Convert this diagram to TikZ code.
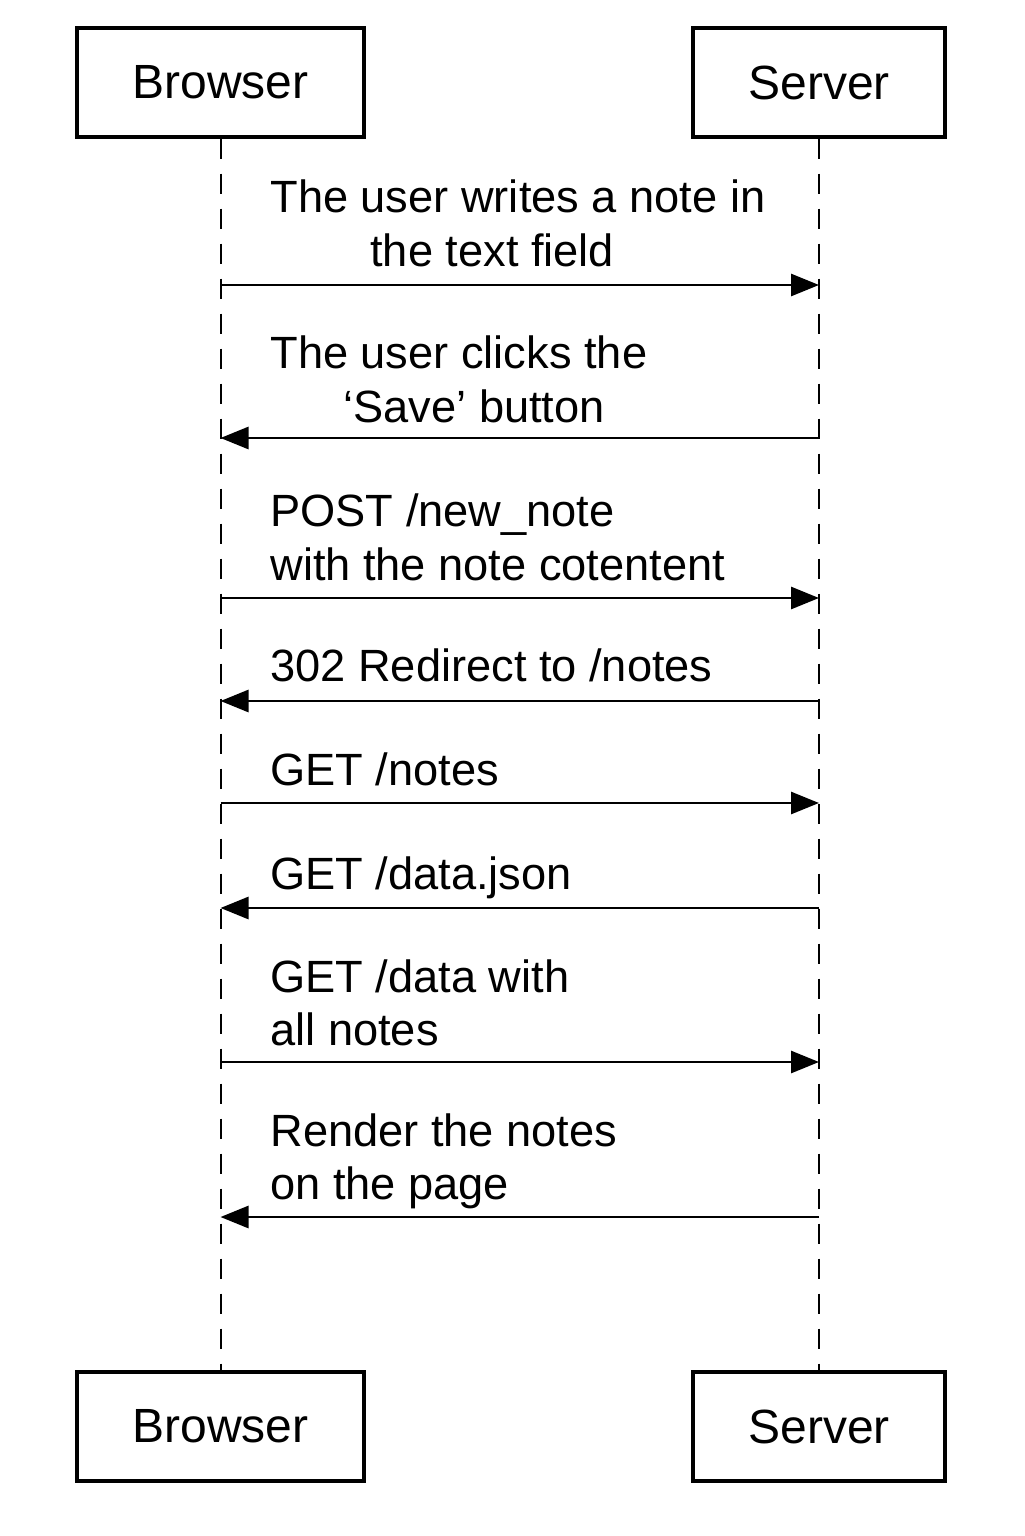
\documentclass[tikz,border=0pt]{standalone}
\usepackage{fontspec}
\setmainfont{Liberation Sans}
\usetikzlibrary{arrows.meta}
\begin{document}
\begin{tikzpicture}[x=0.5pt,y=-0.5pt,
  actor/.style={draw,line width=1.6pt,minimum width=143.5pt,minimum height=54.5pt,inner sep=0pt,font=\fontsize{24}{28}\selectfont},
  life/.style={line width=1pt,dash pattern=on 10pt off 7.5pt},
  msg/.style={line width=1.4pt,-{Triangle[length=14pt,width=11pt]}},
  lbl/.style={anchor=base west,inner sep=0pt,font=\fontsize{22.6}{26}\selectfont}]
\useasboundingbox (0,0) rectangle (1024,1536);
\node[actor] (bt) at (220.5,82.5) {Browser};
\node[actor,minimum width=126pt] (st) at (819,82.5) {Server};
\node[actor] (bb) at (220.5,1426.5) {Browser};
\node[actor,minimum width=126pt] (sb) at (819,1426.5) {Server};
\draw[life] (bt.south) -- (bb.north);
\draw[life] (st.south) -- (sb.north);
% coordinates on lifelines
\foreach \i/\y in {1/285,2/438,3/598,4/701,5/803,6/908,7/1062,8/1217}{
  \coordinate (b\i) at (220.5,\y);
  \coordinate (s\i) at (819,\y);
}
\draw[msg] (b1) -- (s1);
\draw[msg] (s2) -- (b2);
\draw[msg] (b3) -- (s3);
\draw[msg] (s4) -- (b4);
\draw[msg] (b5) -- (s5);
\draw[msg] (s6) -- (b6);
\draw[msg] (b7) -- (s7);
\draw[msg] (s8) -- (b8);
\node[lbl] (l1a) at (270,213) {The user writes a note in};
\node[lbl] (l1b) at (370,266) {the text field};
\node[lbl] (l2a) at (270,368) {The user clicks the};
\node[lbl] (l2b) at (343,422) {‘Save’ button};
\node[lbl] (l3a) at (270,526) {POST /new\_note};
\node[lbl] (l3b) at (270,580) {with the note cotentent};
\node[lbl] (l4) at (270,681) {302 Redirect to /notes};
\node[lbl] (l5) at (270,785) {GET /notes};
\node[lbl] (l6) at (270,889) {GET /data.json};
\node[lbl] (l7a) at (270,992) {GET /data with};
\node[lbl] (l7b) at (270,1045) {all notes};
\node[lbl] (l8a) at (270,1146) {Render the notes};
\node[lbl] (l8b) at (270,1199) {on the page};
\end{tikzpicture}
\end{document}
